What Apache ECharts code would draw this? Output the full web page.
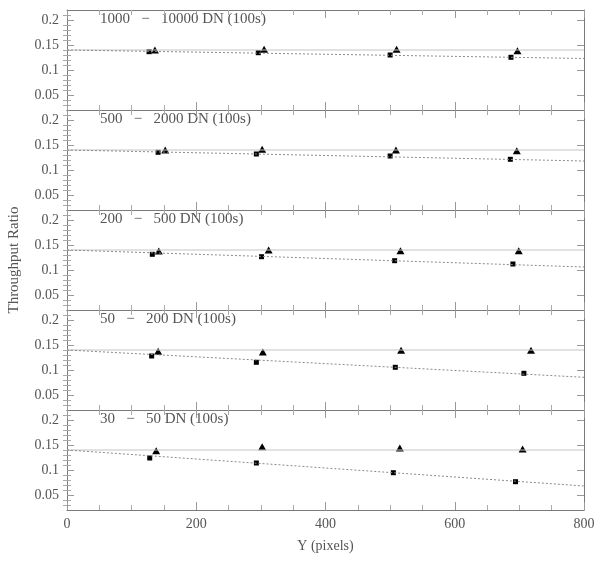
<!DOCTYPE html>
<html>
<head>
<meta charset="utf-8">
<script src="https://cdn.jsdelivr.net/npm/echarts@6/dist/echarts.min.js"></script>
<style>
  html, body { margin: 0; padding: 0; background: #fff; }
  #chart { width: 607px; height: 563px; }
</style>
</head>
<body>
<div id="chart"></div>
<script>
// panel labels, top to bottom
const panelLabels = [
  '1000   \u2212   10000 DN (100s)',
  '500   \u2212   2000 DN (100s)',
  '200   \u2212   500 DN (100s)',
  '50   \u2212   200 DN (100s)',
  '30   \u2212   50 DN (100s)'
];

// square points (Y pixel, ratio)
const squareX = [
  [127, 296, 500, 687],
  [141, 293, 500, 686],
  [132, 301, 507, 690],
  [131, 293, 508, 707],
  [128, 293, 505, 694]
];
const squareY = [
  [0.1366, 0.1346, 0.130, 0.1254],
  [0.1354, 0.132, 0.128, 0.1214],
  [0.1314, 0.1266, 0.1186, 0.112],
  [0.128, 0.1154, 0.1054, 0.0934],
  [0.124, 0.114, 0.0946, 0.0766]
];

// triangle points
const triangleX = [
  [136, 305, 510, 697],
  [152, 302, 509, 696],
  [142, 312, 516, 699],
  [141, 303, 517, 718],
  [138, 302, 515, 705]
];
const triangleY = [
  [0.140, 0.1414, 0.1414, 0.1386],
  [0.140, 0.1414, 0.140, 0.1386],
  [0.138, 0.140, 0.1386, 0.1386],
  [0.1374, 0.136, 0.1394, 0.1394],
  [0.1386, 0.1466, 0.144, 0.142]
];

// reference level and fitted line ends
const refLevel = 0.14;
const fitStart = 0.14;
const fitEnd = [0.123, 0.118, 0.106, 0.0854, 0.068];

const xMin = 0, xMax = 800;
const yMin = 0.02, yMax = 0.22;
const yMajor = [0.05, 0.1, 0.15, 0.2];
const yMinor = [0.03, 0.04, 0.06, 0.07, 0.08, 0.09, 0.11, 0.12, 0.13, 0.14, 0.16, 0.17, 0.18, 0.19, 0.21];

const axisColor = '#7a7a7a';
const textColor = '#555';
const fontFamily = 'Liberation Serif';

const chart = echarts.init(document.getElementById('chart'));

const grids = [], xAxes = [], yAxes = [], series = [], graphics = [];

for (let i = 0; i < 5; i++) {
  grids.push({ left: 67, right: 23, top: 10 + i * 100, height: 100 });

  ['bottom', 'top'].forEach(pos => {
    xAxes.push({
      gridIndex: i, type: 'value', min: xMin, max: xMax, interval: 200, position: pos,
      axisLine: { show: true, onZero: false, lineStyle: { color: axisColor, width: 1 } },
      axisTick: { show: true, inside: true, length: 8, lineStyle: { color: '#999' } },
      minorTick: { show: true, splitNumber: 4, length: 5, lineStyle: { color: '#aaa' } },
      axisLabel: { show: pos === 'bottom' && i === 4, color: textColor, fontSize: 14, fontFamily: fontFamily, margin: 7 },
      splitLine: { show: false },
      name: pos === 'bottom' && i === 4 ? 'Y (pixels)' : '',
      nameLocation: 'middle', nameGap: 29,
      nameTextStyle: { color: textColor, fontSize: 14, fontFamily: fontFamily }
    });
  });

  ['left', 'right'].forEach(pos => {
    yAxes.push({
      gridIndex: i, type: 'value', min: yMin, max: yMax, position: pos,
      axisLine: { show: true, onZero: false, lineStyle: { color: axisColor, width: 1 } },
      axisTick: { show: true, inside: true, length: 7, customValues: yMajor, lineStyle: { color: '#999' } },
      axisLabel: { show: pos === 'left', customValues: yMajor, color: textColor, fontSize: 14, fontFamily: fontFamily, margin: 8 },
      splitLine: { show: false }
    });
    yAxes.push({
      gridIndex: i, type: 'value', min: yMin, max: yMax, position: pos,
      axisLine: { show: false },
      axisTick: { show: true, inside: true, length: 4, customValues: yMinor, lineStyle: { color: '#aaa' } },
      axisLabel: { show: false },
      splitLine: { show: false }
    });
  });

  const xi = i * 2, yi = i * 4;

  series.push({
    type: 'line', xAxisIndex: xi, yAxisIndex: yi, symbol: 'none', silent: true,
    data: [[xMin, refLevel], [xMax, refLevel]],
    lineStyle: { color: '#c4c4c4', width: 1 }
  });
  series.push({
    type: 'line', xAxisIndex: xi, yAxisIndex: yi, symbol: 'none', silent: true,
    data: [[xMin, fitStart], [xMax, fitEnd[i]]],
    lineStyle: { color: '#8a8a8a', width: 1, type: [2, 2] }
  });
  series.push({
    type: 'scatter', xAxisIndex: xi, yAxisIndex: yi, symbol: 'rect', symbolSize: 5,
    itemStyle: { color: '#000', opacity: 1 },
    data: squareX[i].map((x, k) => [x, squareY[i][k]])
  });
  series.push({
    type: 'scatter', xAxisIndex: xi, yAxisIndex: yi, symbol: 'triangle', symbolSize: [8, 7],
    itemStyle: { color: '#000', opacity: 1 },
    data: triangleX[i].map((x, k) => [x, triangleY[i][k]])
  });

  graphics.push({
    type: 'text', left: 100, top: 12 + i * 100,
    style: { text: panelLabels[i], fill: textColor, font: '15px ' + fontFamily }
  });
}

graphics.push({
  type: 'text', x: 14, y: 260, rotation: Math.PI / 2,
  style: { text: 'Throughput Ratio', fill: textColor, font: '15px ' + fontFamily, align: 'center', verticalAlign: 'middle' }
});

chart.setOption({
  animation: false,
  grid: grids,
  xAxis: xAxes,
  yAxis: yAxes,
  series: series,
  graphic: graphics
});
</script>
</body>
</html>
